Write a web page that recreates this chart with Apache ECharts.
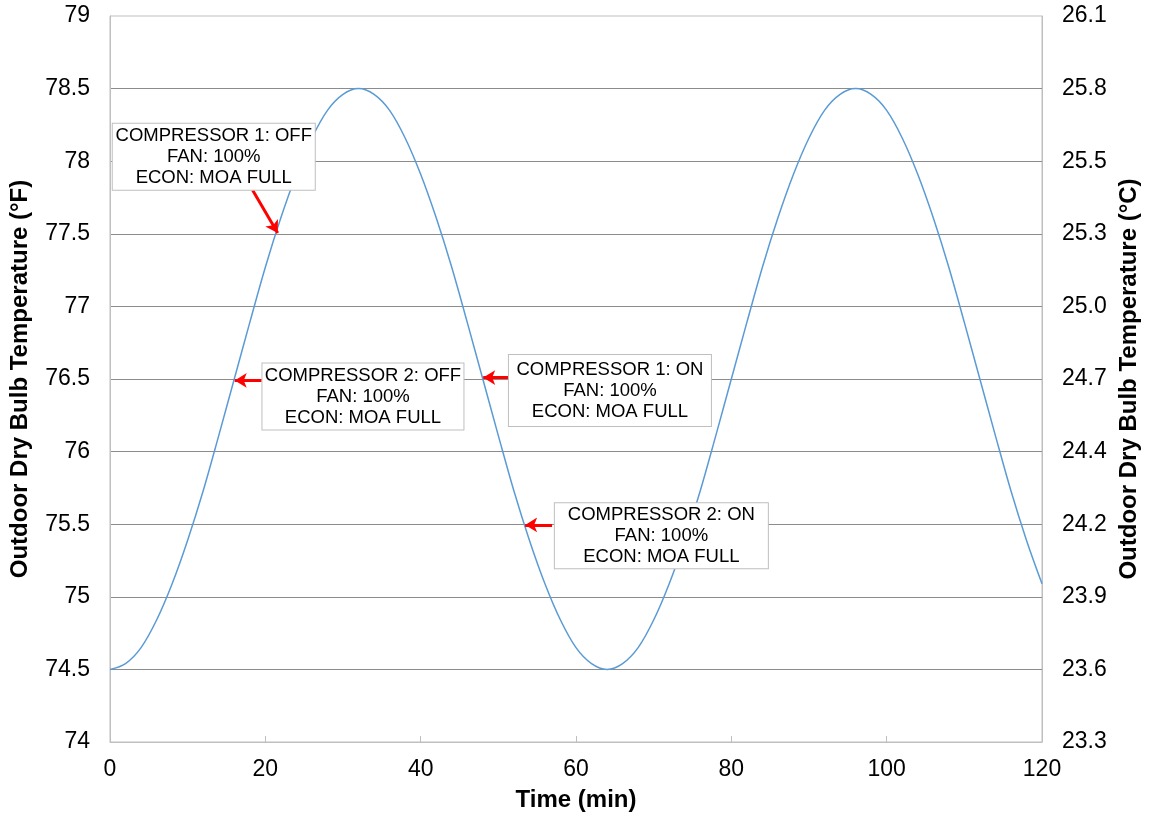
<!DOCTYPE html>
<html>
<head>
<meta charset="utf-8">
<script src="https://cdn.jsdelivr.net/npm/echarts@6/dist/echarts.min.js"></script>
<style>html,body{margin:0;padding:0;background:#fff}#c{width:1150px;height:818px}</style>
</head>
<body>
<div id="c"></div>
<script>
// ---- data ----
const timeMin = [0,2,4,6,8,10,12,14,16,18,20,22,24,26,28,30,32,34,36,38,40,42,44,46,48,50,52,54,56,58,60,62,64,66,68,70,72,74,76,78,80,82,84,86,88,90,92,94,96,98,100,102,104,106,108,110,112,114,116,118,120];
const tempF = [74.5,74.54,74.65,74.84,75.09,75.39,75.73,76.11,76.5,76.89,77.27,77.61,77.91,78.16,78.35,78.46,78.5,
  78.46,78.35,78.16,77.91,77.61,77.27,76.89,76.5,76.11,75.73,75.39,75.09,74.84,74.65,74.54,74.5,
  74.54,74.65,74.84,75.09,75.39,75.73,76.11,76.5,76.89,77.27,77.61,77.91,78.16,78.35,78.46,78.5,
  78.46,78.35,78.16,77.91,77.61,77.27,76.89,76.5,76.11,75.73,75.39,75.09];
const leftTickLabels = ['74','74.5','75','75.5','76','76.5','77','77.5','78','78.5','79'];
const rightTickLabels = ['23.3','23.6','23.9','24.2','24.4','24.7','25.0','25.3','25.5','25.8','26.1'];
const annotationTexts = [
  'COMPRESSOR 1: OFF\nFAN: 100%\nECON: MOA FULL',
  'COMPRESSOR 2: OFF\nFAN: 100%\nECON: MOA FULL',
  'COMPRESSOR 1: ON\nFAN: 100%\nECON: MOA FULL',
  'COMPRESSOR 2: ON\nFAN: 100%\nECON: MOA FULL'
];
// annotation anchors in data space [time, °F]
const boxAnchors = [[13.36,78.03],[32.57,76.38],[64.37,76.42],[70.99,75.42]];
const arrowTails = [[18.37,77.80],[19.53,76.49],[51.4,76.51],[56.92,75.495]];
const arrowHeads = [[21.59,77.505],[16.06,76.49],[48.05,76.51],[53.45,75.495]];

// ---- chart ----
const FONT = '"Liberation Sans", Arial, sans-serif';
const boxStyles = [
  {width:196, padding:[2,3,1,3]},
  {width:195, padding:[2,3,1,3]},
  {width:196, padding:[4,3,4,3]},
  {width:207, padding:[1,3,1,3]}
];
const chart = echarts.init(document.getElementById('c'));
const yMin = Number(leftTickLabels[0]);
const yMax = Number(leftTickLabels[leftTickLabels.length-1]);
const yInt = Number(leftTickLabels[1]) - yMin;

const option = {
  animation: false,
  textStyle: {fontFamily: FONT},
  grid: {left:107, right:108, top:16, bottom:76, show:true, borderColor:'#bfbfbf', borderWidth:1},
  xAxis: {
    type:'value', min:0, max:120, interval:20,
    name:'Time (min)', nameLocation:'middle', nameGap:46,
    nameTextStyle:{fontSize:24, fontWeight:'bold', color:'#000', fontFamily:FONT},
    axisLine:{show:true, lineStyle:{color:'#bfbfbf', width:1}},
    axisTick:{show:true, inside:true, length:6, lineStyle:{color:'#bfbfbf'}},
    axisLabel:{fontSize:23, color:'#000', margin:16, fontFamily:FONT},
    splitLine:{show:false}
  },
  yAxis: [
    {
      type:'value', min:yMin, max:yMax, interval:yInt, position:'left',
      name:'Outdoor Dry Bulb Temperature (°F)', nameLocation:'middle', nameGap:78,
      nameTextStyle:{fontSize:24, fontWeight:'bold', color:'#000', fontFamily:FONT},
      axisLine:{show:true, lineStyle:{color:'#bfbfbf', width:1}},
      axisTick:{show:false},
      axisLabel:{fontSize:23, color:'#000', margin:20, fontFamily:FONT,
        formatter: v => { const i = Math.round((v - yMin)/yInt); return leftTickLabels[i] ?? ''; }},
      splitLine:{show:true, showMinLine:false, showMaxLine:false, lineStyle:{color:'#8c8c8c', width:1}}
    },
    {
      type:'value', min:yMin, max:yMax, interval:yInt, position:'right',
      name:'Outdoor Dry Bulb Temperature (°C)', nameLocation:'middle', nameGap:74,
      nameTextStyle:{fontSize:24, fontWeight:'bold', color:'#000', fontFamily:FONT},
      axisLine:{show:true, lineStyle:{color:'#bfbfbf', width:1}},
      axisTick:{show:false},
      axisLabel:{fontSize:23, color:'#000', margin:20, fontFamily:FONT,
        formatter: v => { const i = Math.round((v - yMin)/yInt); return rightTickLabels[i] ?? ''; }},
      splitLine:{show:false}
    }
  ],
  series: [{
    type:'line',
    data: timeMin.map((t,i)=>[t,tempF[i]]),
    smooth:0.35,
    showSymbol:false,
    lineStyle:{color:'#5b9bd5', width:1.5},
    markLine:{
      silent:true,
      symbol:['none','arrow'],
      symbolSize:[11,12],
      label:{show:false},
      lineStyle:{color:'#ff0000', width:3, type:'solid'},
      data: arrowTails.map((tail,i)=>[{coord:tail},{coord:arrowHeads[i]}])
    },
    markPoint:{
      silent:true,
      symbol:'rect',
      symbolSize:1,
      itemStyle:{color:'rgba(0,0,0,0)'},
      data: boxAnchors.map((c,i)=>({
        coord:c,
        label:{
          show:true, position:'inside', formatter: annotationTexts[i],
          fontSize:18.5, lineHeight:21, color:'#000', fontFamily:FONT, align:'center',
          backgroundColor:'#fff', borderColor:'#bfbfbf', borderWidth:1,
          width: boxStyles[i].width, padding: boxStyles[i].padding
        }
      }))
    }
  }]
};
chart.setOption(option);
</script>
</body>
</html>
